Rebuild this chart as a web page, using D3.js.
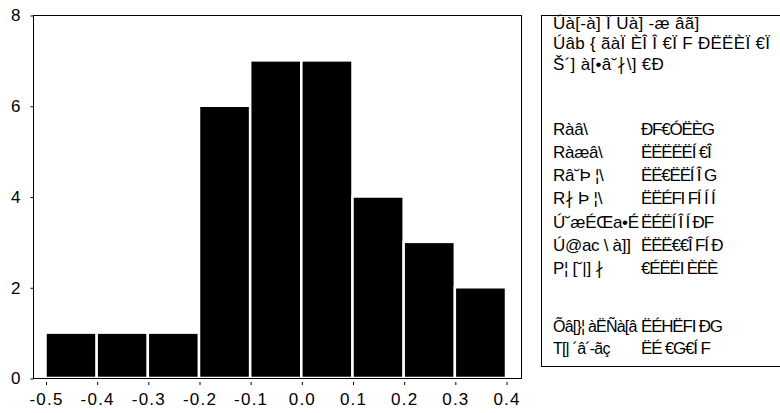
<!DOCTYPE html>
<html>
<head>
<meta charset="utf-8">
<script src="https://cdn.jsdelivr.net/npm/d3@7"></script>
<style>
  body { margin: 0; background: #fff; }
  svg { display: block; font-family: "Liberation Sans", Arial, sans-serif; }
</style>
</head>
<body>
<svg id="chart" width="780" height="413"></svg>
<script>
// histogram bins (left edges + final right edge) and counts
const binEdges = [-0.5, -0.4, -0.3, -0.2, -0.1, 0.0, 0.1, 0.2, 0.3, 0.4];
const counts = [1, 1, 1, 6, 7, 7, 4, 3, 2];
const xTicks = [-0.5, -0.4, -0.3, -0.2, -0.1, 0.0, 0.1, 0.2, 0.3, 0.4];
const yTicks = [0, 2, 4, 6, 8];

// stats box text (garbled, as it appears)
const headerLines = [
    "Úà[-à] Ï Uà] -æ âã]",
    "Úâb { ãàÏ ÈÎ Î €Ï F ÐËËÈÏ €Ï",
    "Š´] à[•â˘∤\\]  €Ð"
];
const statLabels = ["Ràâ\\", "Ràæâ\\", "Râ˘Þ ¦\\", "R∤ Þ ¦\\", "Ú˘æÉŒa•É", "Ú@ac \\ à]]", "P¦ [˘|] ∤"];
const statValues = ["ÐF€ÓËÈG", "ËËËËËÍ €Î", "ËË€ËËÍ Î G", "ËËÉFI FÍ Í Í", "ËÉËÍ Î Í ÐF", "ËËË€€Î FÍ Ð", "€ÉËËI ÈËÈ"];
const testLabels = ["Õâ[}¦ àËÑà[â", "T[| ´â´-ãç"];
const testValues = ["ËÉHËFI ÐG", "ËÉ €G€Í F"];

const svg = d3.select('#chart');

var frame = {left: 33, right: 521, top: 15, bottom: 378};

var x = d3.scaleLinear()
    .domain([-0.5, 0.4])
    .range([45.5, 506]);

var y = d3.scaleLinear()
    .domain([0, 8])
    .range([frame.bottom, frame.top]);

var bins = counts.map(function(c, i) {
    return {x0: binEdges[i], x1: binEdges[i + 1], n: c};
});

// bars
svg.append("g")
    .selectAll("rect")
    .data(bins)
  .enter().append("rect")
    .attr("x", function(d) { return x(d.x0); })
    .attr("width", function(d) { return x(d.x1) - x(d.x0); })
    .attr("y", function(d) { return y(d.n); })
    .attr("height", function(d) { return y(0) - y(d.n); })
    .attr("fill", "#000")
    .attr("stroke", "#fff")
    .attr("stroke-width", 2.5);

// plot frame
svg.append("rect")
    .attr("x", frame.left + 0.5)
    .attr("y", frame.top + 0.5)
    .attr("width", frame.right - frame.left)
    .attr("height", frame.bottom - frame.top)
    .attr("fill", "none")
    .attr("stroke", "#000");

// y axis
var yAxis = svg.append("g")
    .attr("transform", "translate(" + (frame.left + 0.5) + ",0.5)")
    .call(d3.axisLeft(y).tickValues(yTicks).tickSize(3).tickPadding(10));
yAxis.select(".domain").remove();
yAxis.selectAll("text").attr("font-size", 17).attr("font-family", null);

// x axis (ticks sit just below the frame)
var xAxis = svg.append("g")
    .attr("transform", "translate(0.5," + (frame.bottom + 4) + ")")
    .call(d3.axisBottom(x).tickValues(xTicks).tickSize(3).tickPadding(8)
        .tickFormat(function(d) { return d.toFixed(1); }));
xAxis.select(".domain").remove();
xAxis.selectAll("text")
    .attr("font-size", 17)
    .attr("font-family", null)
    .attr("letter-spacing", 1.2);

// stats box
var box = svg.append("g");
box.append("rect")
    .attr("x", 541.5)
    .attr("y", 15.5)
    .attr("width", 300)
    .attr("height", 351)
    .attr("fill", "#fff")
    .attr("stroke", "#000");

var col1 = 553, col2 = 641;
var headerY = [29, 49, 70];
var statY = [135, 158, 181, 204, 228, 251, 274];
var testY = [332, 354];

function addLines(data, xPos, yPos, size, spacing) {
    box.append("g")
        .selectAll("text")
        .data(data)
      .enter().append("text")
        .attr("x", xPos)
        .attr("y", function(d, i) { return yPos[i]; })
        .attr("font-size", size)
        .attr("letter-spacing", spacing)
        .text(function(d) { return d; });
}

addLines(headerLines, col1, headerY, 17, 0.3);
addLines(statLabels, col1, statY, 17, -0.3);
addLines(statValues, col2, statY, 17, -1.2);
addLines(testLabels, col1, testY, 16, -0.8);
addLines(testValues, col2, testY, 17, -1.2);
</script>
</body>
</html>
